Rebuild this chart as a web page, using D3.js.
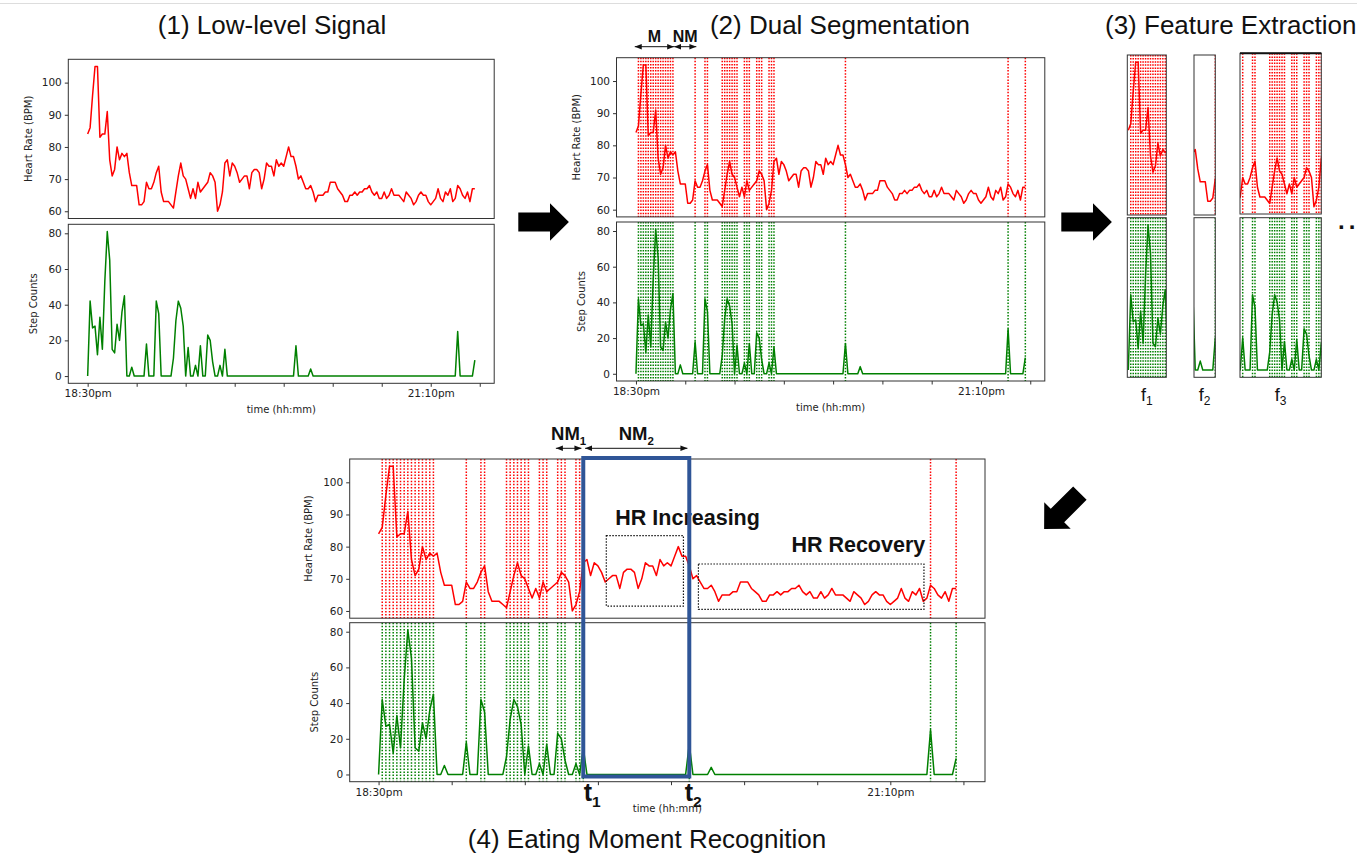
<!DOCTYPE html>
<html>
<head>
<meta charset="utf-8">
<script src="https://cdn.jsdelivr.net/npm/d3@7"></script>
<style>
body { margin: 0; background: #fff; }
svg { display: block; }
</style>
</head>
<body>
<svg id="fig" width="1357" height="858"></svg>
<script>
"use strict";
// heart rate, one value per sample
var hr = [84,86,96,105,105,83,84,84,91,76,
	71,73,80,76,78,77,78,72,68,68,
	68,62,62,63,69,67,67,69,72,74,
	66,63,63,63,62,61,66,71,75,71,
	70,67,64,67,64,69,66,67,68,69,
	72,71,69,60,62,66,75,76,71,75,
	74,72,69,70,71,71,67,72,73,73,
	72,67,70,75,74,74,71,76,74,75,
	74,77,80,77,77,74,70,71,69,67,
	67,68,66,63,65,65,65,66,66,69,
	69,69,67,66,65,63,63,65,65,66,
	65,66,66,67,67,68,66,65,66,64,
	64,66,64,65,67,65,65,65,64,63,
	66,65,64,62,63,65,66,65,65,63,
	62,63,64,67,64,63,66,65,67,63,
	64,68,67,65,64,66,63,67,67];
// step counts, same samples
var steps = [0,42,27,28,12,33,15,53,81,65,
	15,13,29,20,36,45,0,0,5,0,
	0,0,0,0,18,0,0,0,42,35,
	0,0,0,0,0,10,31,42,38,28,
	0,16,0,0,6,0,17,0,0,23,
	20,8,0,0,6,0,15,0,0,0,
	0,0,0,0,0,0,0,0,0,0,
	0,0,0,0,0,0,0,0,0,0,
	0,0,0,0,0,17,0,0,0,0,
	0,4,0,0,0,0,0,0,0,0,
	0,0,0,0,0,0,0,0,0,0,
	0,0,0,0,0,0,0,0,0,0,
	0,0,0,0,0,0,0,0,0,0,
	0,0,0,0,0,0,0,0,0,0,
	0,0,0,0,0,0,0,0,0,0,
	0,25,0,0,0,0,0,0,9];
// samples flagged as moving by the segmentation
var markers = [1,2,3,4,5,6,7,8,9,10,11,12,13,14,15,24,28,29,35,36,37,38,39,40,41,
	44,45,46,49,50,51,54,55,56,85,151,158];

var timeTicks = [0,20,40,60,80,100,120,140,160];
var timeLabels = ["18:30pm","","","","","","","21:10pm",""];
var hrTicks = [60,70,80,90,100];
var stepTicks = [0,20,40,60,80];

// segments (sample index ranges)
var segM = [0,15];
var segNM = [16,24];
var segNM1 = [49,55];
var segNM2 = [57,84];
var eatWindow = [56,85];   // t1, t2
var featureRanges = [[-0.4,15.4],[15.5,24],[22.9,56]];
var featureNames = ["1","2","3"];
// dotted boxes: [from index, to index, low BPM, high BPM]
var boxIncrease = [62.3,83.4,61.5,83.4];
var boxRecovery = [87.5,149.2,60.5,74.6];

var xDomain = [-7.9,165.9];
var hrDomain = [57.75,107.25];
var stepDomain = [-4.05,85.05];

var svg = d3.select("#fig");
var sans = "'Liberation Sans', Arial, sans-serif";
var mpl = "'DejaVu Sans', sans-serif";
var defs = svg.append("defs");
defs.append("marker")
	.attr("id","ah")
	.attr("viewBox","0 0 8 8")
	.attr("refX",8).attr("refY",4)
	.attr("markerWidth",7).attr("markerHeight",7)
	.attr("markerUnits","userSpaceOnUse")
	.attr("orient","auto-start-reverse")
	.append("path").attr("d","M0,0.8 L8,4 L0,7.2 z").attr("fill","#111");

svg.append("line").attr("x1",0).attr("x2",1357).attr("y1",3.5).attr("y2",3.5)
	.attr("stroke","#ddd").attr("stroke-width",1);

// vertical dotted lines at moving samples
function drawMarkers(g, x, top, bot, color, list) {
	g.selectAll(null)
		.data(list)
		.enter()
		.append("line")
		.attr("x1", function(d){ return x(d); })
		.attr("x2", function(d){ return x(d); })
		.attr("y1", top).attr("y2", bot)
		.attr("stroke", color)
		.attr("stroke-width", 1.5)
		.attr("stroke-dasharray", "1.5,1.6");
}

function drawSeries(g, x, y, data, color) {
	var line = d3.line()
		.x(function(d,i){ return x(i); })
		.y(function(d){ return y(d); });
	g.append("path")
		.datum(data)
		.attr("d", line)
		.attr("fill","none")
		.attr("stroke", color)
		.attr("stroke-width", 1.5)
		.attr("stroke-linejoin","round");
}

function frame(g, l, t, r, b, w) {
	g.append("rect")
		.attr("x", l).attr("y", t)
		.attr("width", r-l).attr("height", b-t)
		.attr("fill","none")
		.attr("stroke","#333")
		.attr("stroke-width", w || 1);
}

function styleAxis(a) {
	a.select(".domain").remove();
	a.selectAll(".tick line").attr("stroke","#333");
	a.selectAll(".tick text")
		.attr("font-family", mpl)
		.attr("font-size", 10.5)
		.attr("fill","#222");
}

// full two-axes panel: heart rate above, steps below
function drawPanel(p) {
	var g = svg.append("g");
	var x = d3.scaleLinear().domain(xDomain).range([p.left, p.right]);
	var yH = d3.scaleLinear().domain(hrDomain).range([p.hrBot, p.hrTop]);
	var yS = d3.scaleLinear().domain(stepDomain).range([p.stBot, p.stTop]);

	if (p.markers) {
		drawMarkers(g, x, p.hrTop, p.hrBot, "red", markers);
		drawMarkers(g, x, p.stTop, p.stBot, "green", markers);
	}
	drawSeries(g, x, yH, hr, "red");
	drawSeries(g, x, yS, steps, "green");

	var ay1 = g.append("g").attr("transform","translate("+p.left+",0)")
		.call(d3.axisLeft(yH).tickValues(hrTicks).tickSize(3.5).tickPadding(3));
	styleAxis(ay1);
	var ay2 = g.append("g").attr("transform","translate("+p.left+",0)")
		.call(d3.axisLeft(yS).tickValues(stepTicks).tickSize(3.5).tickPadding(3));
	styleAxis(ay2);
	var ax = g.append("g").attr("transform","translate(0,"+p.stBot+")")
		.call(d3.axisBottom(x).tickValues(timeTicks).tickSize(3.5).tickPadding(3)
			.tickFormat(function(d,i){ return timeLabels[i]; }));
	styleAxis(ax);

	frame(g, p.left, p.hrTop, p.right, p.hrBot);
	frame(g, p.left, p.stTop, p.right, p.stBot);

	g.append("text")
		.attr("transform","translate("+(p.left-p.hrLab)+","+((p.hrTop+p.hrBot)/2)+") rotate(-90)")
		.attr("text-anchor","middle")
		.attr("font-family", mpl).attr("font-size", 10).attr("fill","#222")
		.text("Heart Rate (BPM)");
	g.append("text")
		.attr("transform","translate("+(p.left-p.stLab)+","+((p.stTop+p.stBot)/2)+") rotate(-90)")
		.attr("text-anchor","middle")
		.attr("font-family", mpl).attr("font-size", 10).attr("fill","#222")
		.text("Step Counts");
	g.append("text")
		.attr("x",(p.left+p.right)/2).attr("y", p.stBot+30)
		.attr("text-anchor","middle")
		.attr("font-family", mpl).attr("font-size", 10).attr("fill","#222")
		.text("time (hh:mm)");
	return {g:g, x:x, yH:yH, yS:yS};
}

// cropped segment view used in feature extraction
function drawFeature(k, l, r, hrTop, hrBot, stTop, stBot) {
	var g = svg.append("g");
	var x = d3.scaleLinear().domain(featureRanges[k]).range([l, r]);
	var yH = d3.scaleLinear().domain(hrDomain).range([hrBot, hrTop]);
	var yS = d3.scaleLinear().domain(stepDomain).range([stBot, stTop]);
	var cid = "clipf"+k;
	defs.append("clipPath").attr("id",cid).append("rect")
		.attr("x",l).attr("y",hrTop).attr("width",r-l).attr("height",stBot-hrTop);
	var inner = g.append("g").attr("clip-path","url(#"+cid+")");
	var rng = featureRanges[k];
	var list = markers.filter(function(d){ return d >= rng[0] && d <= rng[1]; });
	drawMarkers(inner, x, hrTop, hrBot, "red", list);
	drawMarkers(inner, x, stTop, stBot, "green", list);
	drawSeries(inner, x, yH, hr, "red");
	drawSeries(inner, x, yS, steps, "green");
	frame(g, l, hrTop, r, hrBot);
	frame(g, l, stTop, r, stBot);
	var t = g.append("text")
		.attr("x",(l+r)/2).attr("y",401)
		.attr("text-anchor","middle")
		.attr("font-family", sans).attr("font-size", 18).attr("fill","#111");
	t.append("tspan").text("f");
	t.append("tspan").attr("font-size",12).attr("dy",4).text(featureNames[k]);
}

function blockArrow(cx, cy, angle) {
	var pts = [[-25.3,-9.5],[6.4,-9.5],[6.4,-18.7],[25.3,0],[6.4,18.7],[6.4,9.5],[-25.3,9.5]];
	svg.append("polygon")
		.attr("points", pts.map(function(p){ return p.join(","); }).join(" "))
		.attr("transform","translate("+cx+","+cy+") rotate("+angle+")")
		.attr("fill","#000");
}

function spanArrow(x1, x2, y) {
	svg.append("line")
		.attr("x1",x1).attr("x2",x2).attr("y1",y).attr("y2",y)
		.attr("stroke","#111").attr("stroke-width",1)
		.attr("marker-start","url(#ah)").attr("marker-end","url(#ah)");
}

function title(txt, x, y, anchor) {
	svg.append("text")
		.attr("x",x).attr("y",y)
		.attr("text-anchor",anchor)
		.attr("font-family", sans).attr("font-size", 26).attr("fill","#111")
		.text(txt);
}

/////////////////// Main program
var p1 = drawPanel({left:68.3, right:494.2, hrTop:59.3, hrBot:218.5, stTop:224.3, stBot:383.3,
	hrLab:36, stLab:31, markers:false});
var p2 = drawPanel({left:616.5, right:1044.8, hrTop:57.7, hrBot:216.9, stTop:222, stBot:381,
	hrLab:37, stLab:32, markers:true});
var p4 = drawPanel({left:349.7, right:985, hrTop:459, hrBot:618.2, stTop:622.7, stBot:781.7,
	hrLab:38, stLab:32, markers:true});

drawFeature(0, 1127.3, 1166.3, 55, 215, 217.7, 377.3);
drawFeature(1, 1194, 1215.3, 55, 215, 217.7, 377.3);
drawFeature(2, 1240, 1321.3, 53.3, 214, 217.7, 377.3);
svg.append("line").attr("x1",1240).attr("x2",1321.3).attr("y1",53.3).attr("y2",53.3)
	.attr("stroke","#111").attr("stroke-width",2);
svg.append("text").attr("x",1338).attr("y",229)
	.attr("font-family", sans).attr("font-size", 24).attr("font-weight","bold")
	.attr("letter-spacing", 4).attr("fill","#111").text("...");

title("(1) Low-level Signal", 272, 34, "middle");
title("(2) Dual Segmentation", 840, 34, "middle");
title("(3) Feature Extraction", 1105, 34, "start");
title("(4) Eating Moment Recognition", 647, 848, "middle");

blockArrow(543.6, 222, 0);
blockArrow(1086.6, 222, 0);
blockArrow(1062, 511, 135);

// panel 2: M / NM spans
var ya = 46.7;
spanArrow(p2.x(segM[0]-0.5), p2.x(segM[1]+0.5), ya);
spanArrow(p2.x(segNM[0]-0.5), p2.x(segNM[1]+0.5), ya);
svg.append("text").attr("x",(p2.x(segM[0]-0.5)+p2.x(segM[1]+0.5))/2).attr("y",41.5)
	.attr("text-anchor","middle").attr("font-family",sans).attr("font-weight","bold")
	.attr("font-size",16).attr("fill","#111").text("M");
svg.append("text").attr("x",(p2.x(segNM[0]-0.5)+p2.x(segNM[1]+0.5))/2).attr("y",41.5)
	.attr("text-anchor","middle").attr("font-family",sans).attr("font-weight","bold")
	.attr("font-size",16).attr("fill","#111").text("NM");

// panel 4: eating window and annotations
var g4 = p4.g, x4 = p4.x, yH4 = p4.yH;
function dottedBox(b) {
	g4.append("rect")
		.attr("x", x4(b[0])).attr("y", yH4(b[3]))
		.attr("width", x4(b[1])-x4(b[0])).attr("height", yH4(b[2])-yH4(b[3]))
		.attr("fill","none").attr("stroke","#111")
		.attr("stroke-width",1.2).attr("stroke-dasharray","1.5,1.5");
}
dottedBox(boxIncrease);
dottedBox(boxRecovery);
g4.append("text").attr("x", x4(boxIncrease[0])+9).attr("y", 525)
	.attr("font-family",sans).attr("font-weight","bold").attr("font-size",21.5)
	.attr("fill","#111").text("HR Increasing");
g4.append("text").attr("x", x4(boxRecovery[0])+93).attr("y", 552)
	.attr("font-family",sans).attr("font-weight","bold").attr("font-size",21.5)
	.attr("fill","#111").text("HR Recovery");

g4.append("rect")
	.attr("x", x4(eatWindow[0])).attr("y", 458)
	.attr("width", x4(eatWindow[1])-x4(eatWindow[0])).attr("height", 318.5)
	.attr("fill","none").attr("stroke","#2f5597").attr("stroke-width",4);

var yb = 448.3;
spanArrow(x4(segNM1[0]-0.5), x4(segNM1[1]+0.5), yb);
spanArrow(x4(segNM2[0]-0.5), x4(segNM2[1]+0.5), yb);
function subLabel(cx, y, main, sub, size, anchor) {
	var t = svg.append("text").attr("x",cx).attr("y",y)
		.attr("text-anchor",anchor).attr("font-family",sans).attr("font-weight","bold")
		.attr("font-size",size).attr("fill","#111");
	t.append("tspan").text(main);
	t.append("tspan").attr("font-size",size*0.62).attr("dy",size*0.25).text(sub);
}
subLabel((x4(segNM1[0]-0.5)+x4(segNM1[1]+0.5))/2, 440, "NM", "1", 18.5, "middle");
subLabel((x4(segNM2[0]-0.5)+x4(segNM2[1]+0.5))/2, 440, "NM", "2", 18.5, "middle");
subLabel(x4(eatWindow[0])+0.5, 801, "t", "1", 25, "start");
subLabel(x4(eatWindow[1])-4.5, 801, "t", "2", 25, "start");
</script>
</body>
</html>
